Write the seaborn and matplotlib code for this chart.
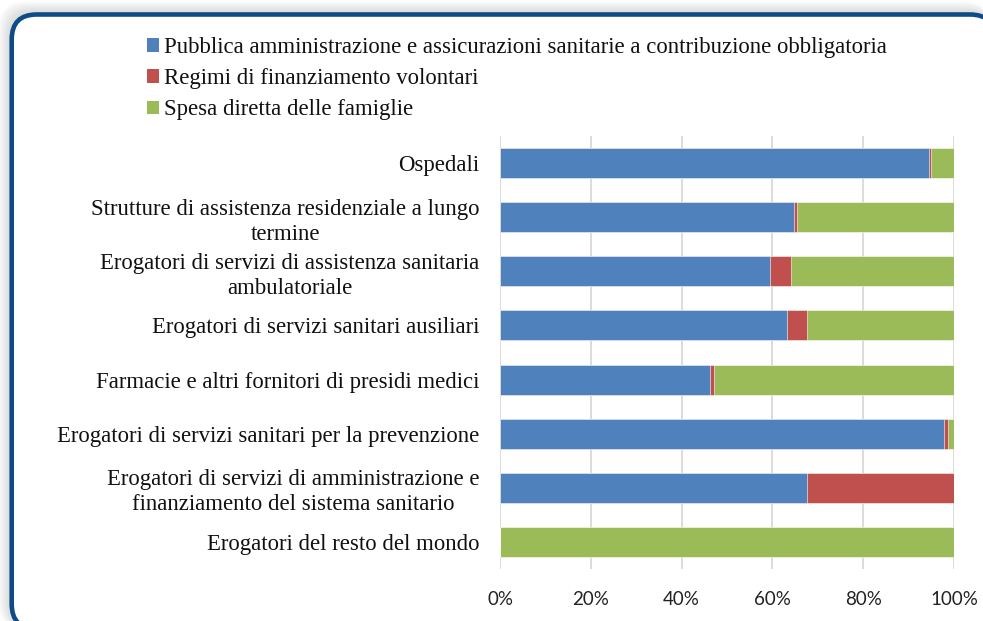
import matplotlib
matplotlib.use("Agg")
import matplotlib.pyplot as plt
import matplotlib.patches as mpatches
from matplotlib.patches import FancyBboxPatch
import seaborn as sns
import pandas as pd

# values (% of spending per provider)
categorie = [
    "Ospedali",
    "Strutture di assistenza residenziale a lungo\ntermine",
    "Erogatori di servizi di assistenza sanitaria\nambulatoriale",
    "Erogatori di servizi sanitari ausiliari",
    "Farmacie e altri fornitori di presidi medici",
    "Erogatori di servizi sanitari per la prevenzione",
    "Erogatori di servizi di amministrazione e\nfinanziamento del sistema sanitario",
    "Erogatori del resto del mondo",
]
pubblica = [94.6, 64.8, 59.4, 63.3, 46.3, 97.9, 67.7, 0.0]
volontari = [0.4, 0.7, 4.6, 4.4, 0.8, 0.7, 32.3, 0.0]
famiglie = [5.0, 34.5, 36.0, 32.3, 52.9, 1.4, 0.0, 100.0]

serie = [
    "Pubblica amministrazione e assicurazioni sanitarie a contribuzione obbligatoria",
    "Regimi di finanziamento volontari",
    "Spesa diretta delle famiglie",
]
colori = ["#4F81BD", "#C0504D", "#9BBB59"]
tick_labels = ["0%", "20%", "40%", "60%", "80%", "100%"]

df = pd.DataFrame({
    "categoria": categorie,
    "blu": pubblica,
    "rosso": [p + v for p, v in zip(pubblica, volontari)],
    "verde": [p + v + f for p, v, f in zip(pubblica, volontari, famiglie)],
})

sns.set_style("white")
plt.rcParams["font.family"] = ["Liberation Serif", "DejaVu Serif"]

W, H = 983, 621
fig = plt.figure(figsize=(W / 100, H / 100), dpi=100)
fig.patch.set_facecolor("white")

# soft shadow + rounded dark blue frame (pixel-based, via inches)
px = 1 / 100
for i in range(8, 0, -1):
    sh = FancyBboxPatch((11.7 * px - i * px * 1.6, -8 * px), (995 - 11.7) * px + i * px, (621 - 14.5 + 8) * px + i * px * 1.6,
                        boxstyle="round,pad=0,rounding_size=0.27",
                        transform=fig.dpi_scale_trans, facecolor="#9a9a9a", edgecolor="none",
                        alpha=0.05, zorder=0)
    fig.patches.append(sh)
frame = FancyBboxPatch((11.7 * px, -8 * px), (995 - 11.7) * px, (621 - 14.5 + 8) * px,
                       boxstyle="round,pad=0,rounding_size=0.25",
                       transform=fig.dpi_scale_trans, facecolor="white", edgecolor="#0E4C85",
                       linewidth=3.3, zorder=1)
fig.patches.append(frame)

ax = fig.add_axes([500 / W, 1 - 568.7 / H, 454 / W, (568.7 - 136.3) / H])
ax.set_facecolor("none")
ax.set_zorder(2)

for col, c in zip(["verde", "rosso", "blu"], colori[::-1]):
    sns.barplot(data=df, x=col, y="categoria", color=c, orient="h", width=0.555,
                saturation=1, edgecolor="white", linewidth=0.4, ax=ax, zorder=3)

ax.set_xlim(0, 100)
ax.set_ylim(7.5, -0.5)
ax.set_xticks([0, 20, 40, 60, 80, 100])
ax.set_xticklabels(tick_labels, family="Lato", fontsize=13.5, color="#222222")
ax.set_yticks(range(len(categorie)))
ax.set_yticklabels(categorie, fontsize=16.4, color="#111111", multialignment="center", linespacing=1.25)
ax.tick_params(axis="y", length=0, pad=14.9)
ax.tick_params(axis="x", length=0, pad=16)
ax.set_xlabel("")
ax.set_ylabel("")
for s in ax.spines.values():
    s.set_visible(False)
ax.grid(axis="x", color="#D9D9D9", linewidth=1.3, zorder=0)
ax.set_axisbelow(True)

handles = [mpatches.Patch(facecolor=c, edgecolor="none") for c in colori]
leg = fig.legend(handles, serie, loc="upper left", bbox_to_anchor=(147 / W, 1 - 37 / H),
                 frameon=False, fontsize=16.4, handlelength=0.53, handleheight=0.53,
                 handletextpad=0.2, labelspacing=0.45, borderpad=0, borderaxespad=0)
leg.set_zorder(5)
for t in leg.get_texts():
    t.set_color("#111111")

fig.savefig("out.png", dpi=100)
